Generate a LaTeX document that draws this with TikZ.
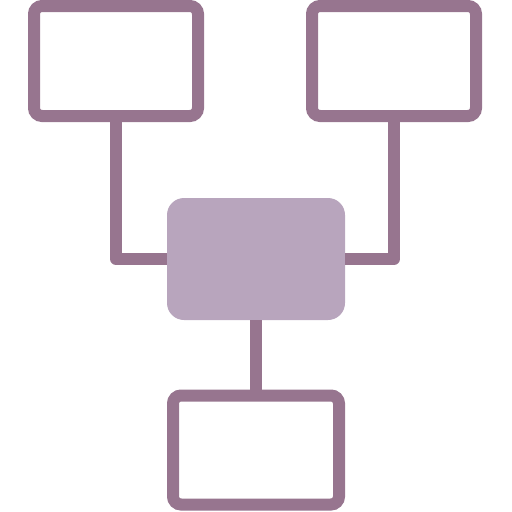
\documentclass[tikz,border=0pt]{standalone}
\definecolor{strokec}{HTML}{97758F}
\definecolor{fillc}{HTML}{B8A5BD}
\begin{document}
\begin{tikzpicture}[x=1pt,y=-1pt,
  outline/.style={draw=strokec,line width=12pt,rectangle,rounded corners=8pt,inner sep=0pt,outer sep=0pt},
  hub/.style={fill=fillc,rectangle,rounded corners=17pt,inner sep=0pt,outer sep=0pt},
  link/.style={draw=strokec,line width=12pt,line join=round}]
\useasboundingbox (0,0) rectangle (512,512);
\node[outline,minimum width=164pt,minimum height=110pt] (tl) at (116,61) {};
\node[outline,minimum width=164pt,minimum height=110pt] (tr) at (394,61) {};
\node[hub,minimum width=178pt,minimum height=122pt] (c) at (256,259) {};
\node[outline,minimum width=166pt,minimum height=109pt] (b) at (256,450) {};
\draw[link] (tl.south) |- (c.west);
\draw[link] (tr.south) |- (c.east);
\draw[link] (c.south) -- (b.north);
\end{tikzpicture}
\end{document}
